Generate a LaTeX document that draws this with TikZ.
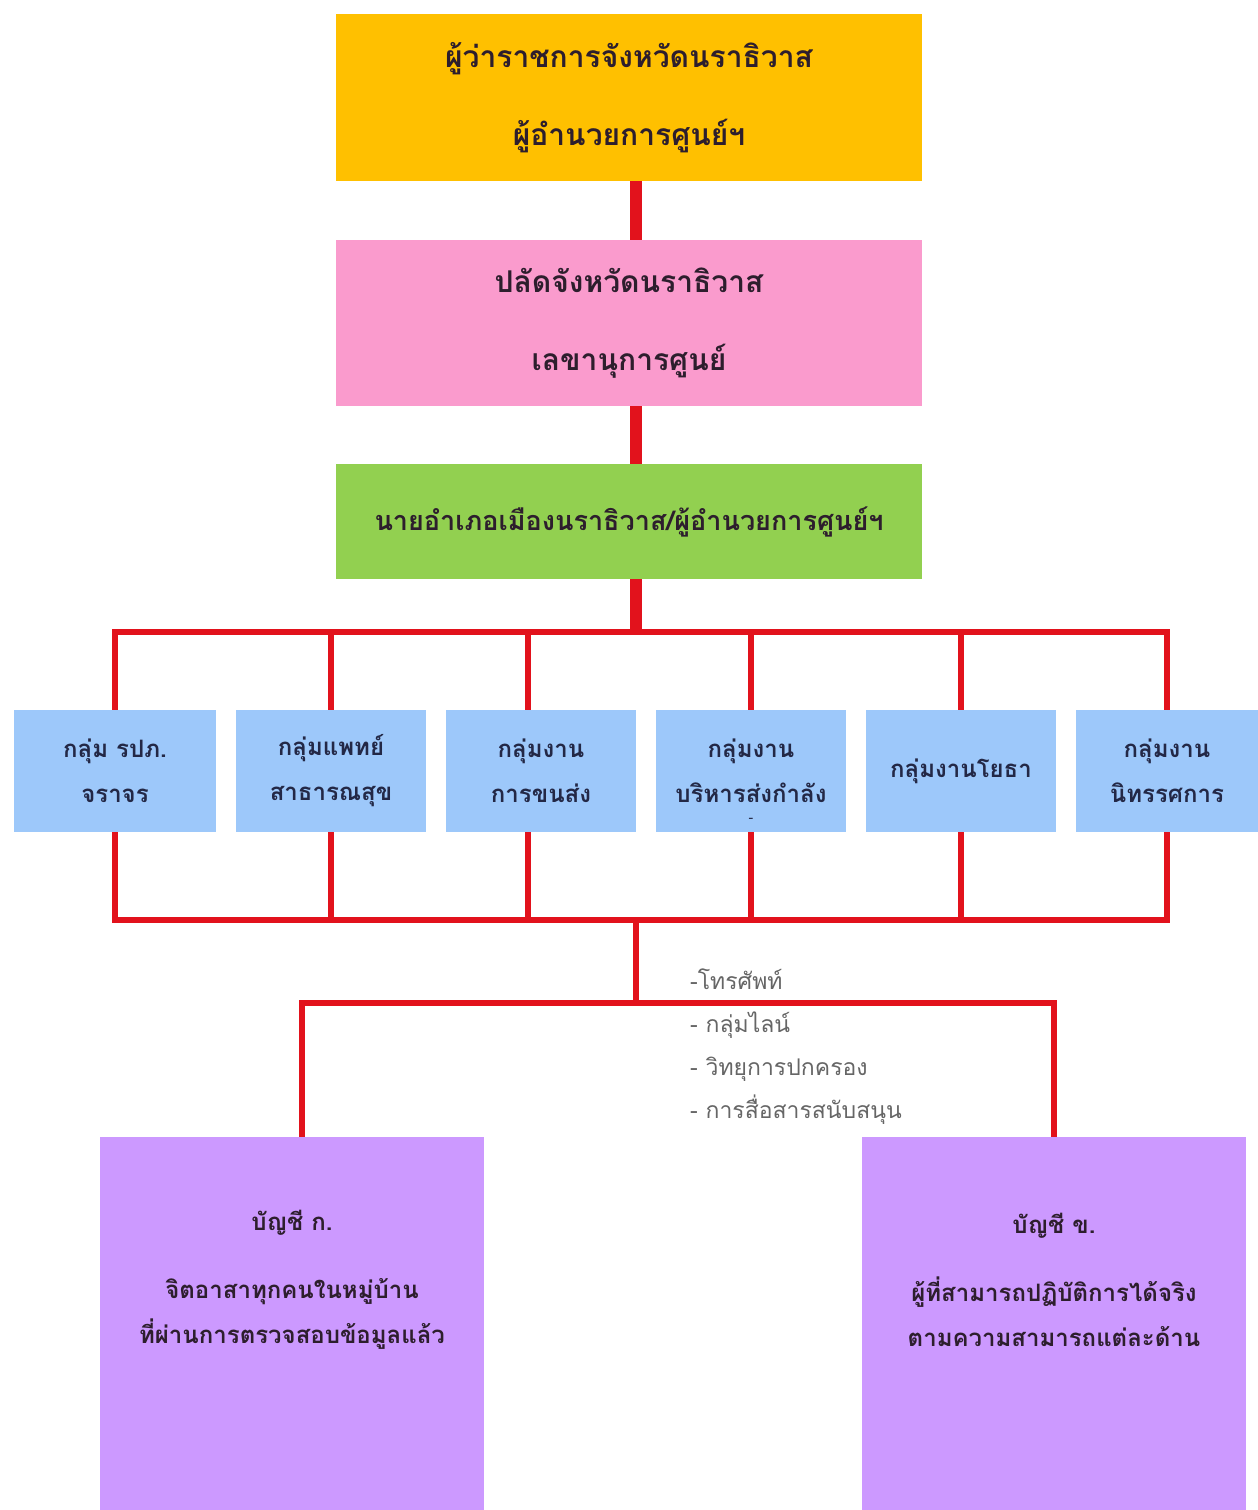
\documentclass[tikz,border=0pt]{standalone}
\usepackage{fontspec}
\newfontfamily\thaifont[Script=Thai]{Loma}
\definecolor{govorange}{RGB}{255,192,0}
\definecolor{palpink}{RGB}{250,155,205}
\definecolor{ampgreen}{RGB}{146,208,80}
\definecolor{grpblue}{RGB}{157,200,250}
\definecolor{lstpurple}{RGB}{204,153,255}
\definecolor{lnred}{RGB}{226,18,28}
\definecolor{txtdark}{RGB}{45,30,45}
\definecolor{grptxt}{RGB}{35,40,70}
\tikzstyle{bx}=[rectangle,inner sep=2pt,align=center,text=txtdark]
\tikzstyle{headbx}=[bx,minimum width=586pt,font=\thaifont\bfseries\fontsize{30}{78}\selectfont]
\tikzstyle{grp}=[bx,fill=grpblue,text=grptxt,minimum width=190pt,minimum height=122pt,font=\thaifont\bfseries\fontsize{24}{45}\selectfont]
\tikzstyle{lst}=[bx,fill=lstpurple,minimum width=384pt,minimum height=373pt]
\tikzstyle{lsttxt}=[bx,font=\thaifont\bfseries\fontsize{24}{45}\selectfont]
\tikzstyle{media}=[align=left,anchor=west,inner sep=0pt,text=black!60,font=\thaifont\fontsize{23}{43}\selectfont]
\tikzstyle{trunk}=[draw=lnred,line width=12pt]
\tikzstyle{bus}=[draw=lnred,line width=5.5pt]

\begin{document}
\begin{tikzpicture}[x=1pt,y=-1pt]
\useasboundingbox (0,0) rectangle (1258,1510);
% command chain
\node[headbx,fill=govorange,minimum height=167pt] (gov) at (629,97.5) {ผู้ว่าราชการจังหวัดนราธิวาส\\ผู้อำนวยการศูนย์ฯ};
\node[headbx,fill=palpink,minimum height=166pt] (pal) at (629,323) {ปลัดจังหวัดนราธิวาส\\เลขานุการศูนย์};
\node[headbx,fill=ampgreen,minimum height=115pt,font=\thaifont\bfseries\fontsize{27}{78}\selectfont] (amp) at (629,521.5) {นายอำเภอเมืองนราธิวาส/ผู้อำนวยการศูนย์ฯ};
% working groups
\node[grp,minimum width=202pt] (g1) at (115,771) {กลุ่ม รปภ.\\จราจร};
\node[grp] (g2) at (331,771) {กลุ่มแพทย์\\สาธารณสุข};
\node[grp] (g3) at (541,771) {กลุ่มงาน\\การขนส่ง};
\node[grp] (g4) at (751,771) {กลุ่มงาน\\บริหารส่งกำลัง};
\node[bx,text=grptxt,font=\thaifont\fontsize{14}{14}\selectfont] (g4dash) at (751,820) {-};
\node[grp] (g5) at (961,771) {กลุ่มงานโยธา};
\node[grp,minimum width=182pt] (g6) at (1167,771) {กลุ่มงาน\\นิทรรศการ};
% lists
\node[lst] (lsta) at (292,1323.5) {};
\node[lst] (lstb) at (1054,1323.5) {};
\node[lsttxt] (txta) at (292,1280) {บัญชี ก.\\[23pt]จิตอาสาทุกคนในหมู่บ้าน\\ที่ผ่านการตรวจสอบข้อมูลแล้ว};
\node[lsttxt] (txtb) at (1054,1280) {บัญชี ข.\\[23pt]ผู้ที่สามารถปฏิบัติการได้จริง\\ตามความสามารถแต่ละด้าน};
\node[media] (comm) at (690,1047) {-โทรศัพท์\\- กลุ่มไลน์\\- วิทยุการปกครอง\\- การสื่อสารสนับสนุน};

\coordinate (busT) at (636,632);
\coordinate (busB) at (636,920);
\coordinate (split) at (636,1003);

\draw[trunk] ([xshift=7pt]gov.south) -- ([xshift=7pt]pal.north);
\draw[trunk] ([xshift=7pt]pal.south) -- ([xshift=7pt]amp.south |- amp.north);
\draw[trunk] ([xshift=7pt]amp.south) -- (busT);

\draw[bus] (g1.north) -- (g1.north |- busT) -- (g6.north |- busT) -- (g6.north);
\draw[bus] (g2.north |- busT) -- (g2.north);
\draw[bus] ([xshift=-13pt]g3.north |- busT) -- ([xshift=-13pt]g3.north);
\draw[bus] (g4.north |- busT) -- (g4.north);
\draw[bus] (g5.north |- busT) -- (g5.north);

\draw[bus] (g1.south) -- (g1.south |- busB) -- (g6.south |- busB) -- (g6.south);
\draw[bus] (g2.south) -- (g2.south |- busB);
\draw[bus] ([xshift=-13pt]g3.south) -- ([xshift=-13pt]g3.south |- busB);
\draw[bus] (g4.south) -- (g4.south |- busB);
\draw[bus] (g5.south) -- (g5.south |- busB);

\draw[bus] (busB) -- (split);
\draw[bus] ([xshift=10pt]lsta.north) -- ([xshift=10pt]lsta.north |- split) -- (lstb.north |- split) -- (lstb.north);
\end{tikzpicture}
\end{document}
